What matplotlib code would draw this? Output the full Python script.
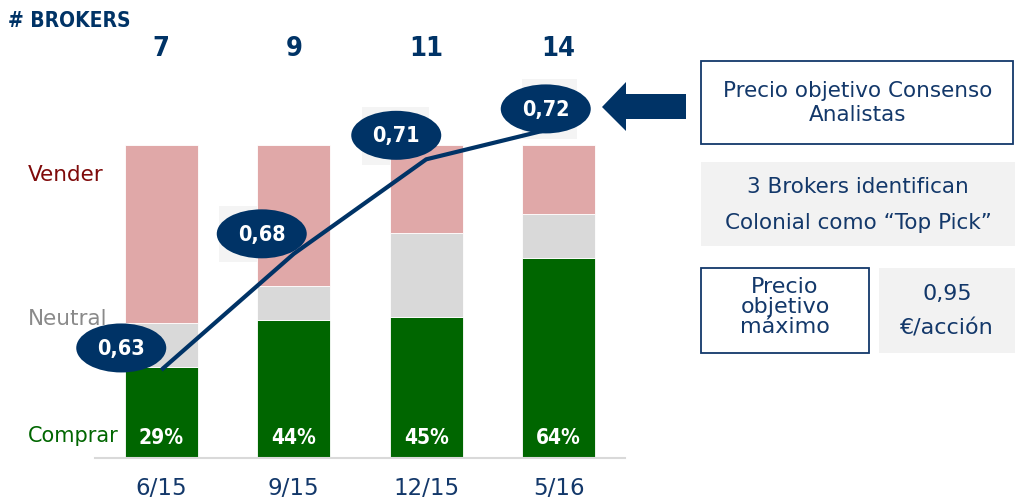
import matplotlib
matplotlib.use('Agg')
import matplotlib.pyplot as plt
from matplotlib.patches import Ellipse, Rectangle, Polygon
from matplotlib.transforms import ScaledTranslation, blended_transform_factory

# ---------------- data ----------------
periodos = ['6/15', '9/15', '12/15', '5/16']
num_brokers = [7, 9, 11, 14]
comprar = [29, 44, 45, 64]
neutral = [14, 11, 27, 14]
vender = [57, 45, 28, 22]
comprar_labels = ['29%', '44%', '45%', '64%']
precio_objetivo = [0.631, 0.674, 0.709, 0.721]
precio_labels = ['0,63', '0,68', '0,71', '0,72']
categorias = ['Vender', 'Neutral', 'Comprar']
precio_maximo = '0,95'

# ---------------- style ----------------
plt.rcParams['font.family'] = ['DejaVu Sans']

NAVY = '#003366'
TXT = '#13386a'
GREEN = '#006600'
GRAY = '#d9d9d9'
PINK = '#e0a8a8'
LIGHT = '#f2f2f2'
COND = 'condensed'

W, H = 1015, 499
fig = plt.figure(figsize=(W / 100, H / 100), dpi=100)

ax = fig.add_axes([95 / W, (H - 458) / H, 530 / W, 313 / H])
x = list(range(len(periodos)))
bw = 0.55
bottom2 = [c + n for c, n in zip(comprar, neutral)]
ax.bar(x, comprar, width=bw, color=GREEN, edgecolor='white', linewidth=0.6, zorder=2)
ax.bar(x, neutral, bottom=comprar, width=bw, color=GRAY, edgecolor='white', linewidth=0.6, zorder=2)
ax.bar(x, vender, bottom=bottom2, width=bw, color=PINK, edgecolor='white', linewidth=0.6, zorder=2)
ax.set_xlim(-0.5, 3.5)
ax.set_ylim(0, 100)
for s in ['top', 'right', 'left']:
    ax.spines[s].set_visible(False)
ax.spines['bottom'].set_color('#d9d9d9')
ax.spines['bottom'].set_linewidth(1.5)
ax.set_yticks([])
ax.set_xticks(x)
ax.set_xticklabels(periodos, fontsize=16.5, color=TXT)
ax.tick_params(axis='x', length=0, pad=14)

# percentages in green bars
for i, lbl in enumerate(comprar_labels):
    ax.text(i, 4.5, lbl, ha='center', va='baseline', color='white',
            fontsize=15, fontweight='bold', fontstretch=COND, zorder=3)

# secondary axis for target price line
ax2 = ax.twinx()
ax2.set_ylim(0.5984, 0.7143)
ax2.set_xlim(-0.5, 3.5)
ax2.axis('off')
ax2.plot(x, precio_objetivo, color=NAVY, linewidth=3, zorder=4,
         solid_capstyle='butt', clip_on=False)

offsets = [(-40, 22), (-32, 20), (-30, 24), (-13, 18)]
rect_off = [None, (-43, -28, 70, 56), (-34, -30, 67, 58), (-24, -30, 55, 60)]
for i, (v, lbl, (dx, dy)) in enumerate(zip(precio_objetivo, precio_labels, offsets)):
    tr = ScaledTranslation(i, v, ax2.transData)
    if rect_off[i] is not None:
        rx, ry, rw, rh = rect_off[i]
        r = Rectangle((dx + rx, dy + ry), rw, rh, transform=tr, facecolor='#f4f4f4',
                      edgecolor='none', zorder=0.5, clip_on=False)
        ax.add_artist(r)
    e = Ellipse((dx, dy), 90, 49, transform=tr, facecolor=NAVY, edgecolor='none',
                zorder=5, clip_on=False)
    ax2.add_artist(e)
    ax2.annotate(lbl, xy=(i, v), xytext=(dx, dy - 1), textcoords='offset pixels',
                 ha='center', va='center', color='white', fontsize=15.5,
                 fontweight='bold', fontstretch=COND, zorder=6, annotation_clip=False)

# overlay in pixel coordinates for annotations
oax = fig.add_axes([0, 0, 1, 1])
oax.set_xlim(0, W)
oax.set_ylim(H, 0)
oax.axis('off')
oax.patch.set_alpha(0)

oax.text(8, 27, '# BROKERS', fontsize=15, fontweight='bold', fontstretch=COND,
         color=NAVY, va='baseline', ha='left')
bt = blended_transform_factory(ax.transData, oax.transData)
for i, n in enumerate(num_brokers):
    ax.text(i, 56, str(n), transform=bt, ha='center', va='baseline', fontsize=19.5,
            fontweight='bold', fontstretch=COND, color=NAVY, clip_on=False)

oax.text(28, 181, categorias[0], fontsize=15.5, color='#7f0a0a', va='baseline', ha='left')
oax.text(28, 325, categorias[1], fontsize=15.5, color='#8a8a8a', va='baseline', ha='left')
oax.text(28, 442, categorias[2], fontsize=15, color=GREEN, va='baseline', ha='left')

# arrow
oax.add_patch(Polygon([(686, 94), (626, 94), (626, 82), (602, 107), (626, 131),
                       (626, 119), (686, 119)], closed=True, facecolor=NAVY, edgecolor='none'))

# boxes
oax.add_patch(Rectangle((701, 61), 312, 83, facecolor='white', edgecolor=TXT, linewidth=1.3))
oax.add_patch(Rectangle((701, 162), 314, 84, facecolor=LIGHT, edgecolor='none'))
oax.add_patch(Rectangle((701, 268), 168, 85, facecolor='white', edgecolor=TXT, linewidth=1.3))
oax.add_patch(Rectangle((879, 268), 136, 85, facecolor=LIGHT, edgecolor='none'))

fs = 15.5
fs2 = 16
oax.text(858, 97, 'Precio objetivo Consenso', fontsize=fs, color=TXT, ha='center', va='baseline')
oax.text(858, 121, 'Analistas', fontsize=fs, color=TXT, ha='center', va='baseline')
oax.text(858, 193, '3 Brokers identifican', fontsize=fs, color=TXT, ha='center', va='baseline')
oax.text(858, 229, 'Colonial como \u201cTop Pick\u201d', fontsize=fs, color=TXT, ha='center', va='baseline')
oax.text(785, 293, 'Precio', fontsize=fs2, color=TXT, ha='center', va='baseline')
oax.text(785, 313, 'objetivo', fontsize=fs2, color=TXT, ha='center', va='baseline')
oax.text(785, 333, 'm\u00e1ximo', fontsize=fs2, color=TXT, ha='center', va='baseline')
oax.text(947, 300, precio_maximo, fontsize=fs2, color=TXT, ha='center', va='baseline')
oax.text(947, 335, '\u20ac/acci\u00f3n', fontsize=fs2, color=TXT, ha='center', va='baseline')

fig.savefig('out.png', dpi=100)
